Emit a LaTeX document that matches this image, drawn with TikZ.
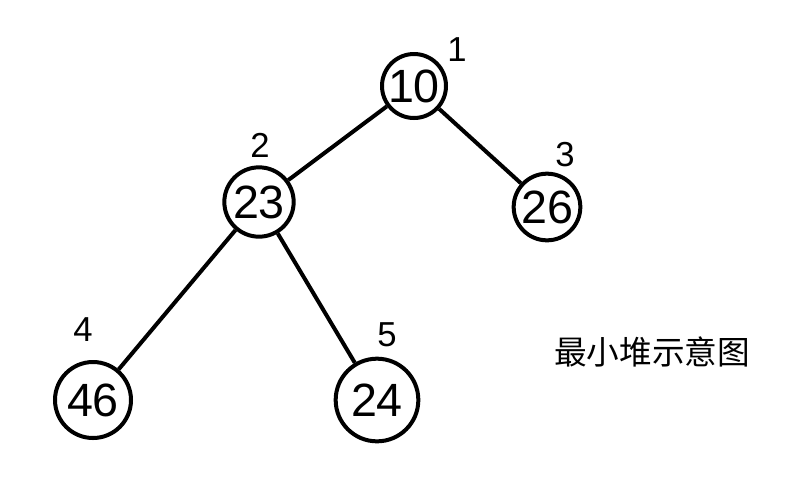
\documentclass[tikz,border=0pt]{standalone}
\usepackage{fontspec}
\setmainfont{Liberation Sans}
\newfontfamily\cjk{Noto Sans CJK SC}
\begin{document}
\begin{tikzpicture}[x=0.75pt,y=-0.75pt,
  heapnode/.style={draw=black,line width=3pt,circle,inner sep=0pt,font=\fontsize{35}{35}\selectfont},
  edge/.style={draw=black,line width=3pt},
  idx/.style={font=\fontsize{26}{26}\selectfont,inner sep=0pt}]
\useasboundingbox (0,0) rectangle (809,486);
\node[heapnode,minimum size=48pt] (n1) at (414,86) {10};
\node[heapnode,minimum size=52pt] (n2) at (259,202) {23};
\node[heapnode,minimum size=50pt] (n3) at (547,207) {26};
\node[heapnode,minimum size=57pt] (n4) at (93,400) {46};
\node[heapnode,minimum size=62pt] (n5) at (377,400) {24};
\draw[edge] (n1) -- (n2);
\draw[edge] (n1) -- (n3);
\draw[edge] (n2) -- (n4);
\draw[edge] (n2) -- (n5);
\node[idx] (l1) at (457,50) {1};
\node[idx] (l2) at (260,145) {2};
\node[idx] (l3) at (565,155) {3};
\node[idx] (l4) at (83,330) {4};
\node[idx] (l5) at (387,335) {5};
\node[font=\cjk\fontsize{24.5}{24.5}\selectfont,inner sep=0pt] (title) at (652,352) {最小堆示意图};
\end{tikzpicture}
\end{document}
